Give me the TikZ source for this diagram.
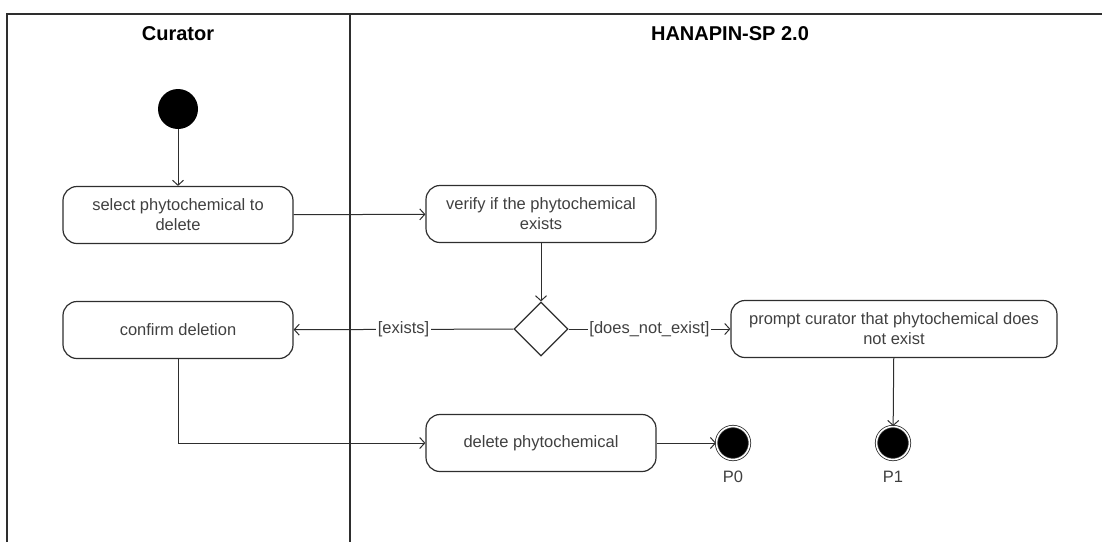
\documentclass[tikz,border=0pt]{standalone}
\usepackage{fontspec}
\setmainfont{Liberation Sans}
\usetikzlibrary{arrows.meta,shapes.geometric}
\definecolor{linec}{HTML}{2E2E2E}
\definecolor{textc}{HTML}{404040}
\begin{document}
\begin{tikzpicture}[x=1pt,y=-1pt,
  frame/.style={draw=linec, line width=2pt},
  act/.style={draw=linec, line width=1.2pt, rounded corners=14pt,
    minimum width=230pt, minimum height=57pt, align=center, text=textc,
    font=\fontsize{16.5}{20}\selectfont, inner sep=2pt},
  header/.style={font=\fontsize{20}{24}\selectfont\bfseries, text=black},
  startnode/.style={circle, fill=black, minimum size=40pt, inner sep=0pt},
  endnode/.style={circle, fill=black, draw=linec, line width=0.8pt,
    double=white, double distance=1.6pt, minimum size=33pt, inner sep=0pt},
  decision/.style={diamond, draw=linec, line width=1.2pt, fill=white,
    minimum width=54pt, minimum height=54pt, inner sep=0pt, aspect=1},
  flow/.style={draw=linec, line width=1pt, -{Straight Barb[length=5pt,width=11pt]}},
  guard/.style={fill=white, text=textc, font=\fontsize{16.5}{20}\selectfont, inner sep=1.5pt},
  ptag/.style={text=textc, font=\fontsize{16.5}{20}\selectfont}
]
\useasboundingbox (0,0) rectangle (1102,542);

% swimlane frame
\draw[frame] (7,542) -- (7,14) -- (1102,14);
\draw[frame] (350,14) -- (350,542);
\node[header] (hcur) at (178,34) {Curator};
\node[header] (hsys) at (730,34) {HANAPIN-SP 2.0};

% nodes
\node[startnode] (start) at (178,109) {};
\node[act] (select) at (178,215) {select phytochemical to\\delete};
\node[act] (verify) at (541,214) {verify if the phytochemical\\exists};
\node[decision] (dec) at (541,329) {};
\node[act] (confirm) at (178,330) {confirm deletion};
\node[act, minimum width=326pt] (prompt) at (894,329) {prompt curator that phytochemical does\\not exist};
\node[act] (delete) at (541,443) {delete phytochemical};
\node[endnode] (p0) at (733,443) {};
\node[endnode] (p1) at (893,443) {};
\node[ptag] (p0t) at (733,477) {P0};
\node[ptag] (p1t) at (893,477) {P1};

% transitions
\draw[flow] (start) -- (select);
\draw[flow] (select) -- (verify);
\draw[flow] (verify) -- (dec);
\draw[flow] (dec) -- node[guard] {[exists]} (confirm);
\draw[flow] (dec) -- node[guard] {[does\_not\_exist]} (prompt);
\draw[flow] (prompt) -- (p1);
\draw[flow] (confirm.south) |- (delete.west);
\draw[flow] (delete) -- (p0);
\end{tikzpicture}
\end{document}
